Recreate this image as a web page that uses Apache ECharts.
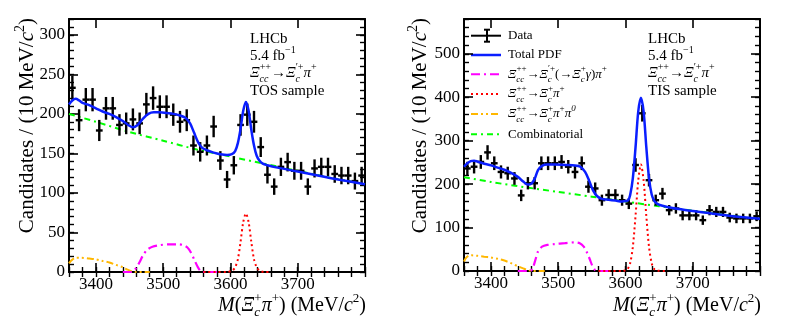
<!DOCTYPE html>
<html>
<head>
<meta charset="utf-8">
<script src="https://cdn.jsdelivr.net/npm/echarts@6.0.0/dist/echarts.min.js"></script>
<style>
html, body { margin: 0; padding: 0; background: #fff; }
#chart { width: 789px; height: 326px; }
</style>
</head>
<body>
<div id="chart"></div>
<script>
// bin centres, 10 MeV/c2 bins
var binCenters = [3365, 3375, 3385, 3395, 3405, 3415, 3425, 3435, 3445, 3455, 3465, 3475, 3485, 3495, 3505,
    3515, 3525, 3535, 3545, 3555, 3565, 3575, 3585, 3595, 3605, 3615, 3625, 3635, 3645, 3655, 3665,
    3675, 3685, 3695, 3705, 3715, 3725, 3735, 3745, 3755, 3765, 3775, 3785, 3795];

// candidates per bin
var tosCounts = [233, 192, 218, 218, 179, 207, 207, 186, 188, 193, 188, 212, 220, 209, 209,
    199, 190, 192, 160, 152, 160, 184, 141, 117, 135, 186, 199, 190, 158, 123, 108,
    133, 139, 128, 128, 108, 131, 133, 133, 124, 122, 122, 115, 122];
var tisCounts = [236, 240, 251, 273, 248, 228, 225, 213, 174, 202, 202, 248, 248, 248, 251,
    240, 228, 248, 194, 190, 163, 175, 175, 163, 155, 244, 363, 209, 163, 178, 140,
    144, 128, 128, 128, 117, 140, 136, 136, 123, 121, 121, 121, 126];

// tick labels
var xMajors = [3400, 3500, 3600, 3700];
var tosYMajors = [0, 50, 100, 150, 200, 250, 300];
var tisYMajors = [0, 100, 200, 300, 400, 500];

// fit curves
var combX = [3360, 3400, 3450, 3500, 3550, 3600, 3650, 3700, 3750, 3800];
var tosComb = [200, 190, 177, 166, 155, 146, 137, 128, 119, 111];
var tisComb = [216, 205, 193, 182, 171, 160, 149, 139, 129, 120];

var tosTotalX = [3360, 3365, 3370, 3375, 3380, 3390, 3400, 3410, 3420, 3430, 3440, 3448, 3455, 3462, 3470,
    3478, 3486, 3495, 3505, 3515, 3525, 3533, 3540, 3546, 3552, 3558, 3565, 3575, 3585, 3595, 3602,
    3607, 3611, 3615, 3619, 3623, 3627, 3631, 3635, 3639, 3643, 3648, 3655, 3670, 3700, 3730, 3760, 3800];
var tosTotal = [212, 217, 219, 217, 214, 211, 207, 203, 200, 196, 191, 186, 183, 186, 194,
    200, 202, 202, 201, 200, 198, 195, 188, 176, 164, 157, 154, 151, 149, 148, 149,
    153, 163, 181, 204, 215, 204, 180, 160, 147, 141, 137, 135, 132, 127, 122, 117, 111];

var tisTotalX = [3360, 3365, 3370, 3375, 3380, 3390, 3400, 3410, 3420, 3430, 3440, 3448, 3455, 3460, 3465,
    3470, 3476, 3484, 3495, 3510, 3525, 3533, 3540, 3546, 3552, 3558, 3565, 3575, 3585, 3595, 3600,
    3604, 3607, 3611, 3615, 3619, 3623, 3627, 3631, 3635, 3639, 3643, 3648, 3655, 3670, 3700, 3730, 3760, 3800];
var tisTotal = [240, 248, 253, 254, 252, 247, 243, 238, 233, 226, 217, 206, 199, 201, 212,
    232, 242, 245, 245, 244, 243, 240, 228, 208, 185, 172, 166, 164, 162, 160, 161,
    163, 175, 214, 285, 367, 399, 367, 285, 214, 176, 161, 154, 150, 145, 138, 132, 126, 120];

var tosSigX = [3560, 3595, 3603, 3607, 3611, 3615, 3619, 3623, 3627, 3631, 3635, 3639, 3643, 3650, 3660];
var tosSig = [0, 0, 2, 6, 16, 38, 63, 74, 63, 38, 16, 6, 2, 0, 0];
var tisSigX = [3560, 3595, 3599, 3603, 3607, 3611, 3615, 3619, 3623, 3627, 3631, 3635, 3639, 3643, 3647, 3660];
var tisSig = [0, 0, 1, 4, 18, 56, 127, 208, 245, 208, 127, 56, 18, 4, 1, 0];

var tosGamX = [3440, 3452, 3458, 3464, 3470, 3476, 3484, 3495, 3510, 3522, 3530, 3536, 3541, 3546, 3551, 3556, 3562, 3580];
var tosGam = [0, 0, 3, 11, 21, 28, 32, 34, 35, 35, 34, 31, 25, 16, 7, 1, 0, 0];
var tisGamX = [3440, 3458, 3462, 3466, 3470, 3476, 3484, 3495, 3510, 3525, 3532, 3538, 3543, 3547, 3551, 3555, 3560, 3580];
var tisGam = [0, 0, 6, 25, 45, 56, 60, 62, 64, 66, 64, 56, 42, 27, 11, 2, 0, 0];

var tosPi0X = [3360, 3364, 3370, 3378, 3390, 3400, 3410, 3420, 3430, 3440, 3447, 3453, 3460, 3480];
var tosPi0 = [11, 15, 18, 18, 17, 16, 14, 12, 9, 6, 3, 1, 0, 0];
var tisPi0X = [3360, 3363, 3367, 3372, 3380, 3390, 3400, 3410, 3420, 3430, 3440, 3448, 3455, 3462, 3480];
var tisPi0 = [22, 30, 35, 36, 35, 33, 31, 28, 24, 18, 11, 6, 2, 0, 0];

var SERIF = '"Liberation Serif", "DejaVu Serif", serif';
var BLUE = '#0a1eff', MAGENTA = '#ff00ff', RED = '#ff0000', ORANGE = '#ffb700', GREEN = '#00ff00';
var DASH_GAM = [9, 4, 2, 4], DASH_SIG = [2, 3], DASH_PI0 = [7, 3, 2, 3, 2, 3], DASH_COMB = [6, 4, 2, 4];

var chart = echarts.init(document.getElementById('chart'));

function richSet(size) {
    var s = Math.round(size * 0.66);
    var lh = size + 7;
    return {
        r: {fontFamily: SERIF, fontSize: size, lineHeight: lh, align: 'left', color: '#000'},
        i: {fontFamily: SERIF, fontSize: size, lineHeight: lh, align: 'left', fontStyle: 'italic', color: '#000'},
        p: {fontFamily: SERIF, fontSize: s, lineHeight: s + 1, align: 'left', verticalAlign: 'top', color: '#000'},
        q: {fontFamily: SERIF, fontSize: s, lineHeight: s + 1, align: 'left', verticalAlign: 'top', fontStyle: 'italic', color: '#000'},
        b: {fontFamily: SERIF, fontSize: s, lineHeight: s + 1, align: 'left', verticalAlign: 'bottom', fontStyle: 'italic', width: 0.1, color: '#000'}
    };
}

function txt(x, y, text, size, align, rotation) {
    return {
        type: 'text', x: x, y: y, rotation: rotation || 0, silent: true,
        style: {
            text: text, rich: richSet(size), fontFamily: SERIF, fontSize: size,
            align: align || 'left', verticalAlign: 'middle', fill: '#000'
        }
    };
}

function plain(v) { return String(v); }

function xAxes(g) {
    var base = {gridIndex: g, type: 'value', min: 3360, max: 3800, splitLine: {show: false}};
    var line = {show: true, onZero: false, lineStyle: {color: '#000', width: 2}};
    return [
        Object.assign({}, base, {position: 'bottom', axisLine: line,
            axisTick: {inside: true, length: 9, customValues: xMajors, lineStyle: {color: '#000', width: 1.6}},
            axisLabel: {customValues: xMajors, formatter: plain, color: '#000', fontFamily: SERIF, fontSize: 17, margin: 4}}),
        Object.assign({}, base, {position: 'bottom', interval: 20, axisLine: {show: false},
            axisTick: {inside: true, length: 5, lineStyle: {color: '#000', width: 1.4}}, axisLabel: {show: false}}),
        Object.assign({}, base, {position: 'top', axisLine: line,
            axisTick: {inside: true, length: 9, customValues: xMajors, lineStyle: {color: '#000', width: 1.6}},
            axisLabel: {show: false}}),
        Object.assign({}, base, {position: 'top', interval: 20, axisLine: {show: false},
            axisTick: {inside: true, length: 5, lineStyle: {color: '#000', width: 1.4}}, axisLabel: {show: false}})
    ];
}

function yAxes(g, ymax, majors, minorStep) {
    var base = {gridIndex: g, type: 'value', min: 0, max: ymax, splitLine: {show: false}};
    var line = {show: true, onZero: false, lineStyle: {color: '#000', width: 2}};
    return [
        Object.assign({}, base, {position: 'left', axisLine: line,
            axisTick: {inside: true, length: 9, customValues: majors, lineStyle: {color: '#000', width: 1.6}},
            axisLabel: {customValues: majors, formatter: plain, color: '#000', fontFamily: SERIF, fontSize: 17, margin: 4}}),
        Object.assign({}, base, {position: 'left', interval: minorStep, axisLine: {show: false},
            axisTick: {inside: true, length: 5, lineStyle: {color: '#000', width: 1.4}}, axisLabel: {show: false}}),
        Object.assign({}, base, {position: 'right', axisLine: line,
            axisTick: {inside: true, length: 9, customValues: majors, lineStyle: {color: '#000', width: 1.6}},
            axisLabel: {show: false}}),
        Object.assign({}, base, {position: 'right', interval: minorStep, axisLine: {show: false},
            axisTick: {inside: true, length: 5, lineStyle: {color: '#000', width: 1.4}}, axisLabel: {show: false}})
    ];
}

function curve(xs, ys, g, color, width, dash, z) {
    return {
        type: 'line', xAxisIndex: 4 * g, yAxisIndex: 4 * g, z: z, silent: true,
        smooth: 0.3, symbol: 'none', clip: true,
        lineStyle: {color: color, width: width, type: dash || 'solid'},
        data: xs.map(function (x, i) { return [x, ys[i]]; })
    };
}

function dataPoints(counts, g) {
    return {
        type: 'custom', xAxisIndex: 4 * g, yAxisIndex: 4 * g, z: 4, silent: true, clip: true,
        renderItem: function (params, api) {
            var x = api.value(0), y = api.value(1), e = Math.sqrt(y);
            var l = api.coord([x - 5, y]), r = api.coord([x + 5, y]);
            var t = api.coord([x, y + e]), b = api.coord([x, y - e]);
            var st = {stroke: '#000', lineWidth: 2.4};
            return {type: 'group', children: [
                {type: 'line', shape: {x1: l[0], y1: l[1], x2: r[0], y2: r[1]}, style: st},
                {type: 'line', shape: {x1: t[0], y1: t[1], x2: b[0], y2: b[1]}, style: st}
            ]};
        },
        data: binCenters.map(function (x, i) { return [x, counts[i]]; })
    };
}

var decay = '{i|Ξ}{b|cc}{p|++}{r|→}{i|Ξ}{b|c}{p|′+}{i|π}{p|+}';
var yTitle = '{r|Candidates / (10 MeV/}{i|c}{p|2}{r|)}';
var xTitle = '{i|M}{r|(}{i|Ξ}{b|c}{p|+}{i|π}{p|+}{r|) (MeV/}{i|c}{p|2}{r|)}';

var legendRows = [35.7, 55, 74.3, 94, 114, 134.3];
var legendText = [
    '{r|Data}',
    '{r|Total PDF}',
    '{i|Ξ}{b|cc}{p|++}{r|→}{i|Ξ}{b|c}{p|′+}{r|(→}{i|Ξ}{b|c}{p|+}{i|γ}{r|)}{i|π}{p|+}',
    '{i|Ξ}{b|cc}{p|++}{r|→}{i|Ξ}{b|c}{p|+}{i|π}{p|+}',
    '{i|Ξ}{b|cc}{p|++}{r|→}{i|Ξ}{b|c}{p|+}{i|π}{p|+}{i|π}{q|0}',
    '{r|Combinatorial}'
];
var legendStyle = [
    null,
    {stroke: BLUE, lineWidth: 2.5},
    {stroke: MAGENTA, lineWidth: 2, lineDash: DASH_GAM},
    {stroke: RED, lineWidth: 2, lineDash: DASH_SIG},
    {stroke: ORANGE, lineWidth: 2, lineDash: DASH_PI0},
    {stroke: GREEN, lineWidth: 2, lineDash: DASH_COMB}
];

var graphics = [
    txt(27, 18, yTitle, 21, 'right', Math.PI / 2),
    txt(420, 18, yTitle, 21, 'right', Math.PI / 2),
    txt(366, 306, xTitle, 20, 'right'),
    txt(761, 306, xTitle, 20, 'right'),
    txt(250, 39, '{r|LHCb}', 15),
    txt(250, 56, '{r|5.4 fb}{p|−1}', 15),
    txt(250, 73, decay, 15),
    txt(250, 91, '{r|TOS sample}', 15),
    txt(648, 39, '{r|LHCb}', 15),
    txt(648, 56, '{r|5.4 fb}{p|−1}', 15),
    txt(648, 73, decay, 15),
    txt(648, 91, '{r|TIS sample}', 15)
];
legendRows.forEach(function (y, i) {
    if (i === 0) {
        var st = {stroke: '#000', lineWidth: 2};
        graphics.push({type: 'line', silent: true, shape: {x1: 471, y1: y, x2: 501, y2: y}, style: st});
        graphics.push({type: 'line', silent: true, shape: {x1: 487, y1: y - 6, x2: 487, y2: y + 6}, style: st});
        graphics.push({type: 'line', silent: true, shape: {x1: 484, y1: y - 6, x2: 490, y2: y - 6}, style: st});
        graphics.push({type: 'line', silent: true, shape: {x1: 484, y1: y + 6, x2: 490, y2: y + 6}, style: st});
    } else {
        graphics.push({type: 'line', silent: true, shape: {x1: 471, y1: y, x2: 501, y2: y}, style: legendStyle[i]});
    }
    graphics.push(txt(508, y, legendText[i], 13));
});

var option = {
    animation: false,
    backgroundColor: '#fff',
    textStyle: {fontFamily: SERIF},
    grid: [
        {left: 69, top: 19, width: 296, height: 253},
        {left: 464, top: 19, width: 296, height: 252}
    ],
    xAxis: xAxes(0).concat(xAxes(1)),
    yAxis: yAxes(0, 320, tosYMajors, 10).concat(yAxes(1, 580, tisYMajors, 20)),
    graphic: graphics,
    series: [
        curve(tosPi0X, tosPi0, 0, ORANGE, 2, DASH_PI0, 2),
        curve(tosGamX, tosGam, 0, MAGENTA, 2.2, DASH_GAM, 2),
        curve(tosSigX, tosSig, 0, RED, 2, DASH_SIG, 2),
        curve(combX, tosComb, 0, GREEN, 2, DASH_COMB, 2),
        dataPoints(tosCounts, 0),
        curve(tosTotalX, tosTotal, 0, BLUE, 2.5, null, 5),

        curve(tisPi0X, tisPi0, 1, ORANGE, 2, DASH_PI0, 2),
        curve(tisGamX, tisGam, 1, MAGENTA, 2.2, DASH_GAM, 2),
        curve(tisSigX, tisSig, 1, RED, 2, DASH_SIG, 2),
        curve(combX, tisComb, 1, GREEN, 2, DASH_COMB, 2),
        dataPoints(tisCounts, 1),
        curve(tisTotalX, tisTotal, 1, BLUE, 2.5, null, 5)
    ]
};

chart.setOption(option);
</script>
</body>
</html>
